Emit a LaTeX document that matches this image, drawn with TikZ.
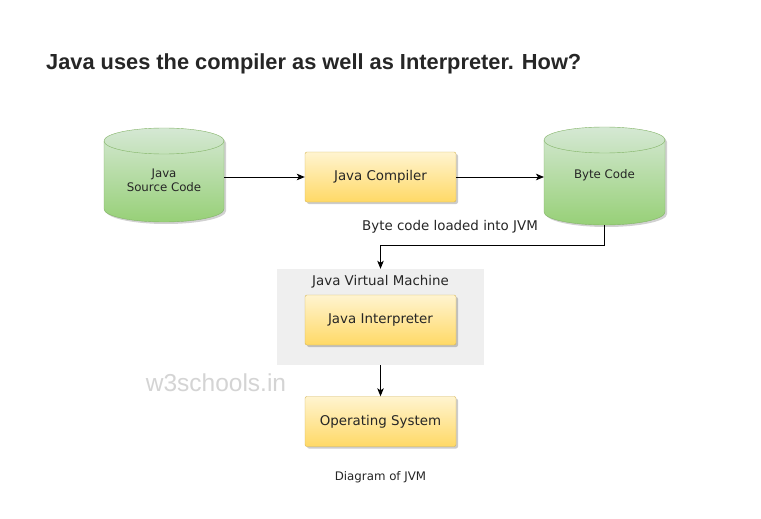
\documentclass[tikz,border=0pt]{standalone}
\usepackage{fontspec}
\setmainfont{DejaVu Sans}
\newfontfamily\titlefont{Liberation Sans}
\usetikzlibrary{arrows.meta,shadows}
\definecolor{ytop}{HTML}{FFF4D0}
\definecolor{ybot}{HTML}{FFD966}
\definecolor{ystroke}{HTML}{D6B656}
\definecolor{gtop}{HTML}{D5E8D4}
\definecolor{gbot}{HTML}{97D077}
\definecolor{gstroke}{HTML}{82B366}
\definecolor{jvmfill}{HTML}{EFEFEF}
\definecolor{txt}{HTML}{262626}
\newcommand\drawcyl[4]{%
  \pgfmathsetmacro\crx{(#2-#1)/2}%
  \fill[black,opacity=0.18] (#1+2,#3-2) -- (#1+2,#4-2) arc[start angle=180,end angle=360,x radius=\crx pt,y radius=13pt] -- (#2+2,#3-2) arc[start angle=0,end angle=180,x radius=\crx pt,y radius=13pt] -- cycle;
  \draw[gstroke,top color=gtop,bottom color=gbot] (#1,#3) -- (#1,#4) arc[start angle=180,end angle=360,x radius=\crx pt,y radius=13pt] -- (#2,#3) arc[start angle=0,end angle=180,x radius=\crx pt,y radius=13pt] -- cycle;
  \draw[gstroke] (#1,#3) arc[start angle=180,end angle=360,x radius=\crx pt,y radius=13pt];
}
\tikzset{
  ybox/.style={rectangle,rounded corners=2pt,draw=ystroke,top color=ytop,bottom color=ybot,
    minimum width=151pt,minimum height=50pt,inner sep=0pt,text=txt,
    font=\fontsize{13.4}{15}\selectfont,
    drop shadow={shadow xshift=2pt,shadow yshift=-2pt,fill=black,opacity=0.2}},
  small/.style={text=txt,font=\fontsize{11.8}{14}\selectfont,align=center,inner sep=0pt},
  mid/.style={text=txt,font=\fontsize{13.4}{15}\selectfont,inner sep=0pt},
  conn/.style={draw=black,line width=1pt,-{Stealth[length=8pt,width=6.5pt,inset=2pt]}},
}
\begin{document}
\begin{tikzpicture}[x=1pt,y=1pt]
\fill[white] (0,0) rectangle (761,-519);
\useasboundingbox (0,0) rectangle (761,-519);

\node[anchor=base west,inner sep=0pt,text=txt,font=\titlefont\bfseries\fontsize{21.8}{26}\selectfont] (title) at (46,-70) {Java uses the compiler as well as Interpreter. How?};

% cylinders
\drawcyl{104}{224}{-141}{-209}
\drawcyl{544}{665}{-140}{-212}
\node[small] (src) at (164,-180) {Java\\Source Code};
\node[small] (bc) at (604.5,-175) {Byte Code};
\coordinate (srcE) at (224,-177);
\coordinate (bcW) at (544,-177);
\coordinate (bcS) at (604.5,-225);

% JVM container
\node[rectangle,fill=jvmfill,minimum width=207pt,minimum height=96pt,inner sep=0pt] (jvm) at (380.5,-317) {};
\node[mid] (jvmlabel) at (380.5,-282) {Java Virtual Machine};

\node[ybox] (comp) at (380.5,-177) {Java Compiler};
\node[ybox] (interp) at (380.5,-320) {Java Interpreter};
\node[ybox] (os) at (380.5,-421.5) {Operating System};

\node[mid] (load) at (450,-227) {Byte code loaded into JVM};
\node[small] (diag) at (380.5,-477) {Diagram of JVM};
\node[inner sep=0pt,text=black!17,font=\titlefont\fontsize{24.5}{28}\selectfont] (wm) at (216,-383) {w3schools.in};

% connectors
\draw[conn] (srcE) -- (comp.west);
\draw[conn] (comp.east) -- (bcW);
\draw[conn] (bcS) -- ++(0,-20) -| (jvm.north);
\draw[conn] (jvm.south) -- (os.north);
\end{tikzpicture}
\end{document}
